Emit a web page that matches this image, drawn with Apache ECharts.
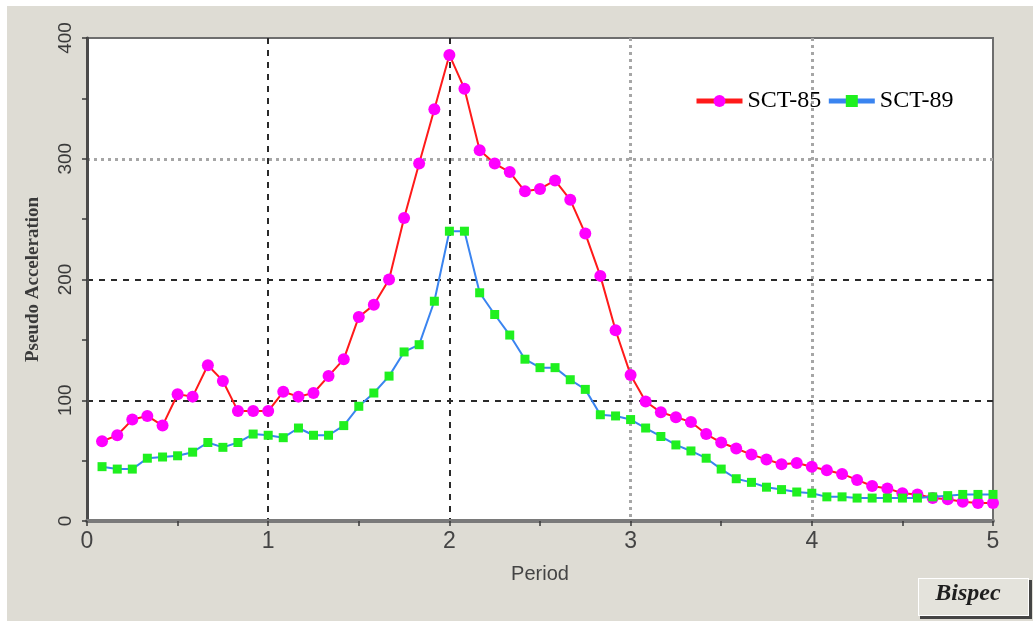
<!DOCTYPE html>
<html>
<head>
<meta charset="utf-8">
<script src="https://cdn.jsdelivr.net/npm/echarts@6/dist/echarts.min.js"></script>
<style>
  html, body { margin: 0; padding: 0; background: #ffffff; }
  #bg { position: absolute; left: 7px; top: 6px; width: 1026px; height: 615px; background: #dedcd4; }
  #chart { position: absolute; left: 0; top: 0; width: 1033px; height: 621px; }
</style>
</head>
<body>
<div id="bg"></div>
<div id="chart"></div>
<script>
// Periods (s)
const periods = [
  0.083, 0.167, 0.25, 0.333, 0.417, 0.5, 0.583, 0.667, 0.75, 0.833, 0.917, 1.0,
  1.083, 1.167, 1.25, 1.333, 1.417, 1.5, 1.583, 1.667, 1.75, 1.833, 1.917, 2.0,
  2.083, 2.167, 2.25, 2.333, 2.417, 2.5, 2.583, 2.667, 2.75, 2.833, 2.917, 3.0,
  3.083, 3.167, 3.25, 3.333, 3.417, 3.5, 3.583, 3.667, 3.75, 3.833, 3.917, 4.0,
  4.083, 4.167, 4.25, 4.333, 4.417, 4.5, 4.583, 4.667, 4.75, 4.833, 4.917, 5.0
];
// Pseudo acceleration, SCT-85
const sct85 = [
  66, 71, 84, 87, 79, 105, 103, 129, 116, 91, 91, 91,
  107, 103, 106, 120, 134, 169, 179, 200, 251, 296, 341, 386,
  358, 307, 296, 289, 273, 275, 282, 266, 238, 203, 158, 121,
  99, 90, 86, 82, 72, 65, 60, 55, 51, 47, 48, 45,
  42, 39, 34, 29, 27, 23, 22, 19, 18, 16, 15, 15
];
// Pseudo acceleration, SCT-89
const sct89 = [
  45, 43, 43, 52, 53, 54, 57, 65, 61, 65, 72, 71,
  69, 77, 71, 71, 79, 95, 106, 120, 140, 146, 182, 240,
  240, 189, 171, 154, 134, 127, 127, 117, 109, 88, 87, 84,
  77, 70, 63, 58, 52, 43, 35, 32, 28, 26, 24, 23,
  20, 20, 19, 19, 19, 19, 19, 20, 21, 22, 22, 22
];
const seriesNames = ['SCT-85', 'SCT-89'];
const xTickLabels = ['0', '1', '2', '3', '4', '5'];
const yTickLabels = ['0', '100', '200', '300', '400'];

const chart = echarts.init(document.getElementById('chart'), null, { renderer: 'canvas' });

const T = 'transparent';
const dark = '#2a2a2a';
const light = '#a6a6a6';

const option = {
  animation: false,
  backgroundColor: 'transparent',
  grid: {
    left: 87, right: 40, top: 38, bottom: 100,
    show: true, backgroundColor: '#ffffff', borderColor: '#6e6e6e', borderWidth: 2
  },
  legend: {
    left: 694, top: 89, padding: 0,
    itemWidth: 46, itemHeight: 15, itemGap: 5,
    data: seriesNames,
    lineStyle: { width: 5 },
    textStyle: { fontFamily: '"Liberation Serif", "Times New Roman", serif', fontSize: 24, color: '#000' }
  },
  xAxis: [
    {
      type: 'value', min: 0, max: 5, interval: 1, position: 'bottom',
      axisLine: { show: true, onZero: false, lineStyle: { color: '#7a7a7a', width: 4 } },
      axisTick: { show: true, length: 5, lineStyle: { color: '#3a3a3a', width: 1.5 } },
      minorTick: { show: true, splitNumber: 2, length: 5, lineStyle: { color: '#3a3a3a', width: 1.5 } },
      axisLabel: {
        color: '#444', fontSize: 23, margin: 9,
        fontFamily: '"Liberation Sans Narrow", "Liberation Sans", Arial, sans-serif',
        formatter: (v) => xTickLabels[Math.round(v)]
      },
      splitLine: { show: true, lineStyle: { type: [6, 6], width: 2, color: [T, dark, dark, T, T, T] } },
      name: 'Period', nameLocation: 'middle', nameGap: 43,
      nameTextStyle: { color: '#444', fontSize: 20, fontFamily: '"Liberation Sans Narrow", "Liberation Sans", Arial, sans-serif' }
    },
    {
      type: 'value', min: 0, max: 5, interval: 1, position: 'bottom',
      axisLine: { show: false }, axisTick: { show: false }, axisLabel: { show: false },
      splitLine: { show: true, lineStyle: { type: [3, 4], width: 3, color: [T, T, T, light, light, T] } }
    }
  ],
  yAxis: [
    {
      type: 'value', min: 0, max: 400, interval: 100, position: 'left',
      axisLine: { show: true, onZero: false, lineStyle: { color: '#4a4a4a', width: 3 } },
      axisTick: { show: true, length: 5, lineStyle: { color: '#3a3a3a', width: 1.5 } },
      minorTick: { show: true, splitNumber: 2, length: 5, lineStyle: { color: '#3a3a3a', width: 1.5 } },
      axisLabel: {
        rotate: 90, color: '#3a3a3a', fontSize: 19, margin: 12,
        fontFamily: '"Liberation Sans", Arial, sans-serif',
        formatter: (v) => yTickLabels[Math.round(v / 100)]
      },
      splitLine: { show: true, lineStyle: { type: [6, 6], width: 2, color: [T, dark, dark, T, T] } },
      name: 'Pseudo Acceleration', nameLocation: 'middle', nameGap: 44,
      nameTextStyle: { color: '#3a3a3a', fontSize: 19, fontWeight: 'bold', fontFamily: '"Liberation Serif", "Times New Roman", serif' }
    },
    {
      type: 'value', min: 0, max: 400, interval: 100, position: 'left',
      axisLine: { show: false }, axisTick: { show: false }, axisLabel: { show: false },
      splitLine: { show: true, lineStyle: { type: [3, 4], width: 3, color: [T, T, T, light, T] } }
    }
  ],
  series: [
    {
      name: seriesNames[0], type: 'line', xAxisIndex: 0, yAxisIndex: 0,
      data: periods.map((p, i) => [p, sct85[i]]),
      symbol: 'circle', symbolSize: 12, showAllSymbol: true,
      lineStyle: { color: '#ff1a1a', width: 2 },
      itemStyle: { color: '#ff00ff' },
      z: 3
    },
    {
      name: seriesNames[1], type: 'line', xAxisIndex: 0, yAxisIndex: 0,
      data: periods.map((p, i) => [p, sct89[i]]),
      symbol: 'rect', symbolSize: 9, showAllSymbol: true,
      lineStyle: { color: '#3a84f0', width: 2 },
      itemStyle: { color: '#1ff01f' },
      z: 4
    }
  ],
  graphic: [
    { type: 'rect', shape: { x: 920, y: 580, width: 112, height: 39 }, style: { fill: '#444444' }, z: 10 },
    { type: 'rect', shape: { x: 918, y: 578, width: 111, height: 38 }, style: { fill: '#ffffff' }, z: 11 },
    { type: 'rect', shape: { x: 919, y: 579, width: 109, height: 36 }, style: { fill: '#e4e3dc' }, z: 12 },
    {
      type: 'text', x: 968, y: 594, z: 13,
      style: {
        text: 'Bispec', fill: '#1e1e1e', align: 'center', verticalAlign: 'middle',
        font: 'italic bold 24px "Liberation Serif", "Times New Roman", serif'
      }
    }
  ]
};
chart.setOption(option);
</script>
</body>
</html>
